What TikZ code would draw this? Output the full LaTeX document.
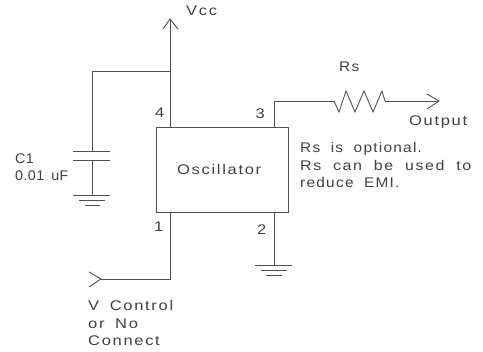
\documentclass[tikz,border=0pt]{standalone}
\usepackage{fontspec}
\setmainfont[LetterSpace=12,FakeStretch=1.18,WordSpace=1.7]{Liberation Sans}
\newfontfamily\widewords[LetterSpace=11,FakeStretch=1.14,WordSpace=2.0]{Liberation Sans}
\newfontfamily\snug[LetterSpace=9,FakeStretch=1.1,WordSpace=1.9]{Liberation Sans}
\newfontfamily\tightset[LetterSpace=3,FakeStretch=1.02,WordSpace=1.6]{Liberation Sans}
\definecolor{wire}{HTML}{505050}
\definecolor{ink}{HTML}{404040}
\tikzset{
  x=1pt,y=-1pt,
  wirepath/.style={draw=wire,line width=0.9pt,line join=miter},
  chip/.style={wirepath,minimum width=132.5pt,minimum height=85pt,inner sep=0pt},
  lbl/.style={anchor=base west,inner sep=0pt,text=ink,font=\fontsize{14}{14}\selectfont},
  plate/.style={wirepath},
}
\begin{document}
\begin{tikzpicture}
\useasboundingbox (0,0) rectangle (483,352);
% chip
\node[chip] (osc) at (222.2,169.5) {};
\node[lbl] (osctext) at (177,175) {Oscillator};
% named points
\coordinate (p4) at (170,127);
\coordinate (vcc) at (170,19);
\coordinate (tee) at (170,71);
\coordinate (corner) at (92,71);
\coordinate (captop) at (92,151);
\coordinate (capbot) at (92,160);
\coordinate (capgnd) at (92,195);
\coordinate (p1) at (170,212);
\coordinate (vcorner) at (170,279);
\coordinate (vc) at (101,279);
\coordinate (p2) at (274,212);
\coordinate (gnd) at (274,265);
\coordinate (p3) at (274,127);
\coordinate (p3c) at (274,101);
\coordinate (rin) at (334,101);
\coordinate (rout) at (385,101);
\coordinate (out) at (439,101);
% wires
\draw[wirepath] (p4) -- (vcc);
\draw[wirepath] (163,29) -- (vcc) -- (178,29);
\draw[wirepath] (tee) -- (corner) -- (captop);
\draw[wirepath] (capbot) -- (capgnd);
\draw[plate] (73,151) -- (110,151);
\draw[plate] (73,160) -- (110,160);
\draw[plate] (73,195) -- (110,195);
\draw[plate] (79,200) -- (105,200);
\draw[plate] (85,205) -- (100,205);
\draw[wirepath] (p1) -- (vcorner) -- (vc);
\draw[wirepath] (89,272) -- (vc) -- (89,287);
\draw[wirepath] (p2) -- (gnd);
\draw[plate] (255,265) -- (292,265);
\draw[plate] (261,270) -- (287,270);
\draw[plate] (266,275) -- (282,275);
\draw[wirepath] (p3) -- (p3c) -- (rin);
\draw[wirepath] (rin) -- (339,112) -- (346,91) -- (355,112) -- (364,91) -- (373,112) -- (382,91) -- (rout);
\draw[wirepath] (rout) -- (out);
\draw[wirepath] (427,94) -- (out) -- (427,109);
% labels
\node[lbl] (lvcc) at (186,16) {Vcc};
\node[lbl] (l4) at (155,118) {4};
\node[lbl] (l3) at (255.5,119) {3};
\node[lbl] (l1) at (154,232) {1};
\node[lbl] (l2) at (257,235) {2};
\node[lbl] (lrs) at (339,72) {\snug Rs};
\node[lbl] (lout) at (409,126) {Output};
\node[lbl] (n1) at (300,153) {\snug Rs is optional.};
\node[lbl] (n2) at (300,171) {\widewords Rs can be used to};
\node[lbl] (n3) at (300,188) {\snug reduce EMI.};
\node[lbl] (c1) at (15,164) {\tightset C1};
\node[lbl] (c2) at (15,181) {\tightset 0.01 uF};
\node[lbl] (v1) at (88,311) {V Control};
\node[lbl] (v2) at (88,329) {or No};
\node[lbl] (v3) at (88,346) {Connect};
\end{tikzpicture}
\end{document}
